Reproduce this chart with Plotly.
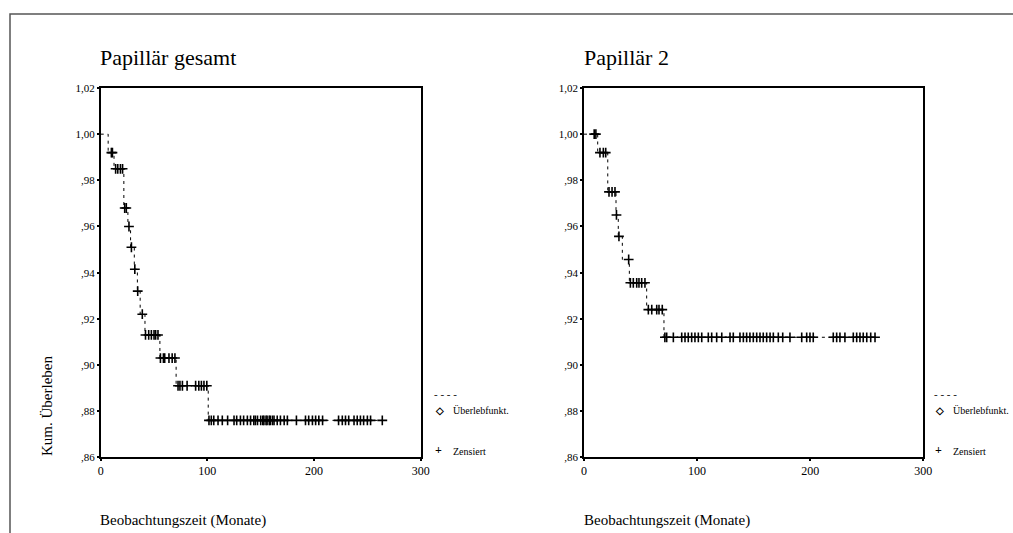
import plotly.graph_objects as go

# ---------------- data ----------------
left_title = "Papillär gesamt"
right_title = "Papillär 2"

left_event_times = [7, 12.5, 21.7, 25.5, 28, 31.5, 34.4, 37, 41.5, 55.5, 70.7, 100.8]
left_surv = [0.992, 0.985, 0.968, 0.960, 0.951, 0.9415, 0.932, 0.922, 0.913, 0.903, 0.891, 0.876]
left_censor_times = [10, 11, 14, 16, 18.5, 20.5, 22.5, 24, 26.5, 28.8, 32, 34.7, 39,
                     42, 45, 47.5, 50, 51.5, 53.7,
                     56, 58.8, 60, 64, 67, 69.6,
                     72.5, 74.3, 76.6, 81, 89, 92, 94.4, 96.8, 99.5,
                     101.5, 103.7, 106, 110, 114, 119, 125, 127.5, 131, 134, 137.5, 140.5,
                     143.5, 145, 147, 150, 152, 153, 155, 156, 158, 159, 161, 162.5, 165.5,
                     168.5, 172, 175, 183.5, 192, 195, 198.5, 201.5, 204.5, 208, 223, 226.5,
                     229.5, 232.5, 237.5, 240.5, 243.5, 246.5, 250, 253, 264]

right_event_times = [12.1, 21, 28.3, 30.3, 33.9, 40.1, 55.4, 70.7]
right_surv = [0.992, 0.975, 0.965, 0.9557, 0.9457, 0.9356, 0.924, 0.912]
right_censor_times = [9, 10.5, 14.1, 17.1, 19.2, 22.1, 24.8, 27.4, 28.7, 30.9, 39.5,
                      41, 43.6, 46.6, 48.6, 51, 53.9,
                      56.9, 59.9, 64.3, 66.3, 69.2,
                      71.5, 73.1, 79, 86.4, 89.3, 92.2, 95.2, 98.1, 101.1, 104.1, 109.9,
                      112.9, 117.3, 121.8, 129.1, 132, 137.9, 140.9, 143.8, 146.7, 149.7,
                      152.7, 155.6, 158.5, 161.5, 164.5, 167.4, 171.8, 175.7, 182.1, 192.5,
                      196.9, 199.8, 202.7, 220.4, 223.4, 226.3, 230.7, 238.1, 241.1, 244,
                      246.9, 250, 253.5, 257.3]

x_tick_vals = [0, 100, 200, 300]
x_tick_text = ["0", "100", "200", "300"]
y_tick_vals = [0.86, 0.88, 0.90, 0.92, 0.94, 0.96, 0.98, 1.00, 1.02]
y_tick_text = [",86", ",88", ",90", ",92", ",94", ",96", ",98", "1,00", "1,02"]

x_label = "Beobachtungszeit (Monate)"
y_label = "Kum. Überleben"
legend_line = "- - - -"
legend_surv = "Überlebfunkt."
legend_cens = "Zensiert"

W, H = 1013, 533
FONT = "Liberation Serif, Times New Roman, serif"


def level_at(t, times, surv):
    s = 1.0
    for et, sv in zip(times, surv):
        if et <= t:
            s = sv
    return s


fig = go.Figure()

panels = [
    (left_event_times, left_surv, left_censor_times, "x", "y"),
    (right_event_times, right_surv, right_censor_times, "x2", "y2"),
]
for ev, sv, cen, xa, ya in panels:
    last = max(cen)
    sx = [0] + ev + [last]
    sy = [1.0] + sv + [sv[-1]]
    fig.add_trace(go.Scatter(x=sx, y=sy, mode="lines", line_shape="hv",
                             line=dict(color="black", width=1, dash="3px,4px"),
                             xaxis=xa, yaxis=ya, showlegend=False, hoverinfo="skip"))
    cy = [level_at(t, ev, sv) for t in cen]
    fig.add_trace(go.Scatter(x=cen, y=cy, mode="markers",
                             marker=dict(symbol="cross-thin", size=7,
                                         line=dict(color="black", width=1.6)),
                             xaxis=xa, yaxis=ya, showlegend=False, hoverinfo="skip"))

ydom = [1 - 457.3 / H, 1 - 88 / H]
ax_common = dict(range=[0, 300], tickvals=x_tick_vals, ticktext=x_tick_text,
                 showline=True, mirror=True, linecolor="black", linewidth=1.5,
                 ticks="outside", ticklen=2, tickwidth=2, tickcolor="black",
                 showgrid=False, zeroline=False, automargin=False,
                 tickfont=dict(family=FONT, size=12, color="black"))
ay_common = dict(range=[0.86, 1.02], tickvals=y_tick_vals, ticktext=y_tick_text,
                 showline=True, mirror=True, linecolor="black", linewidth=1.5,
                 ticks="outside", ticklen=2, tickwidth=2, tickcolor="black",
                 showgrid=False, zeroline=False, domain=ydom, automargin=False,
                 tickfont=dict(family=FONT, size=11, color="black"))

fig.update_layout(
    template="none",
    width=W, height=H, autosize=False,
    margin=dict(l=0, r=0, t=0, b=0, pad=0),
    paper_bgcolor="white", plot_bgcolor="white",
    xaxis=dict(domain=[100.7 / W, 420.7 / W], anchor="y", **ax_common),
    yaxis=dict(anchor="x", **ay_common),
    xaxis2=dict(domain=[584 / W, 923.3 / W], anchor="y2", **ax_common),
    yaxis2=dict(anchor="x2", **ay_common),
    showlegend=False,
)

# outer frame
fig.add_shape(type="rect", xref="paper", yref="paper",
              x0=10 / W, y0=1 - 14 / H, x1=1.05, y1=-0.05,
              line=dict(color="#555555", width=1.5))


def px_ann(text, x, y, size, xanchor="left", angle=0):
    fig.add_annotation(text=text, xref="paper", yref="paper",
                       x=x / W, y=1 - y / H, xanchor=xanchor, yanchor="middle",
                       showarrow=False, textangle=angle,
                       font=dict(family=FONT, size=size, color="black"))


for title, x0, lx in [(left_title, 98, 432), (right_title, 582, 932)]:
    px_ann(title, x0, 57, 22)
    px_ann(x_label, x0, 520, 15)
    px_ann(legend_line, lx, 394, 11)
    px_ann("<b>◇</b>", lx + 1, 410, 10)
    px_ann(legend_surv, lx + 19, 410, 10)
    px_ann("<b>+</b>", lx + 1, 450, 12)
    px_ann(legend_cens, lx + 19, 451, 10)

px_ann(y_label, 47, 406, 15, xanchor="center", angle=-90)

fig.write_html(
    "out.html",
    config={"displayModeBar": False},
    post_script="document.body.style.margin='0';document.body.style.overflow='hidden';",
)
